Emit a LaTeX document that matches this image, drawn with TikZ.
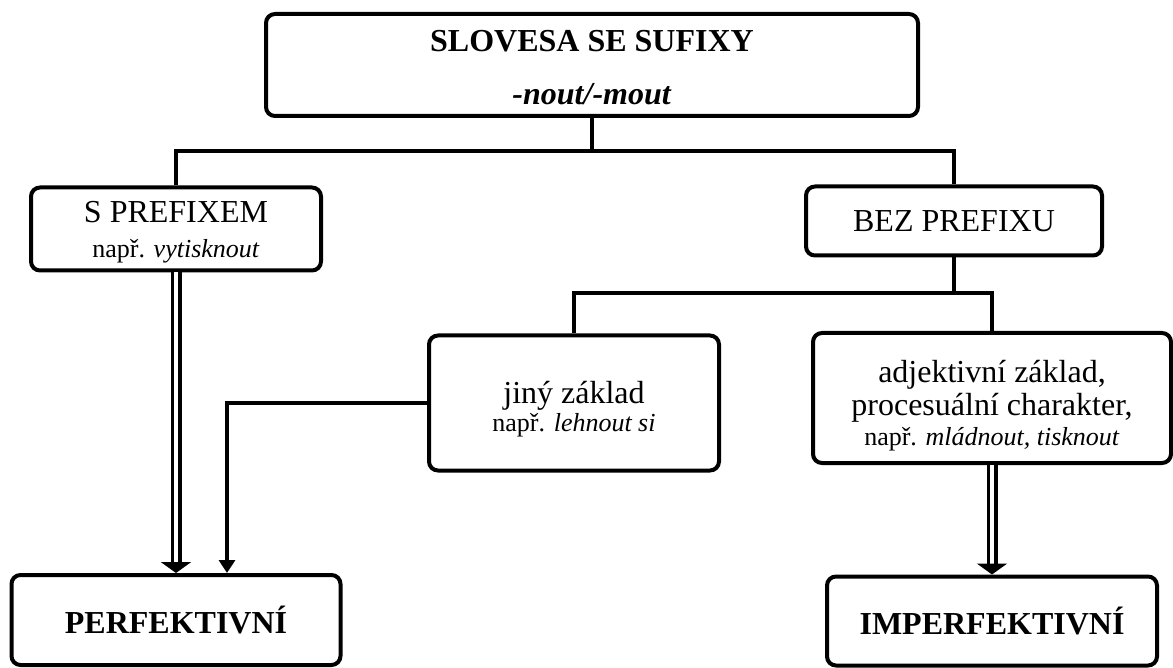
\documentclass[tikz,border=0pt]{standalone}
\usepackage{fontspec}
\setmainfont{Liberation Serif}
\usetikzlibrary{arrows.meta}

\newcommand{\napr}[1]{{\fontsize{26}{30}\selectfont např. \textit{#1}}}

\begin{document}
\begin{tikzpicture}[x=1pt,y=-1pt,
  box/.style={draw, line width=4pt, rounded corners=9pt, align=center, inner sep=0pt, fill=white},
  txt/.style={font=\fontsize{32}{35}\selectfont},
  conn/.style={line width=4pt},
  sarrow/.style={line width=4pt, -{Triangle[width=16pt,length=13pt]}},
  dbl/.style={double, double distance=4pt, line width=3.5pt, -{Triangle[width=30pt,length=11pt]}}]
  \useasboundingbox (0,0) rectangle (1173,668);

  \node[box, minimum width=652pt, minimum height=102pt, font=\bfseries\fontsize{32}{35}\selectfont] (slovesa) at (592,65) {\rule{0pt}{26pt}SLOVESA SE SUFIXY\\[18pt]\textit{-nout/-mout}};
  \node[box, txt, minimum width=290pt, minimum height=83pt] (sprefix) at (176,229) {\rule{0pt}{27pt}S PREFIXEM\\[0pt]\napr{vytisknout}};
  \node[box, txt, minimum width=296pt, minimum height=69pt] (bezprefix) at (954,221) {BEZ PREFIXU};
  \node[box, txt, minimum width=290pt, minimum height=135pt] (jiny) at (574,403) {\rule{0pt}{35pt}jiný základ\\[-7pt]\napr{lehnout si}};
  \node[box, txt, minimum width=358pt, minimum height=130pt] (adj) at (992,398) {\rule{0pt}{37pt}adjektivní základ,\\[-2pt]procesuální charakter,\\[-5pt]\napr{mládnout, tisknout}};
  \node[box, minimum width=329pt, minimum height=90pt, font=\bfseries\fontsize{32}{35}\selectfont] (perf) at (176,620) {PERFEKTIVNÍ};
  \node[box, minimum width=330pt, minimum height=89pt, font=\bfseries\fontsize{32}{35}\selectfont] (imperf) at (992,621) {\raisebox{-6pt}{IMPERFEKTIVNÍ}};

  \coordinate (split1) at (592,151);
  \coordinate (split2) at (954,293);

  \draw[conn] (slovesa) -- (split1);
  \draw[conn] (split1) -| (sprefix);
  \draw[conn] (split1) -| (bezprefix);
  \draw[conn] (bezprefix) -- (split2);
  \draw[conn] (split2) -| (jiny);
  \draw[conn] (split2) -| (adj);

  \draw[dbl] (sprefix) -- (perf);
  \draw[dbl] (adj) -- (imperf);
  \draw[sarrow] (jiny.west) -| ([xshift=51pt]perf.north);
\end{tikzpicture}
\end{document}
